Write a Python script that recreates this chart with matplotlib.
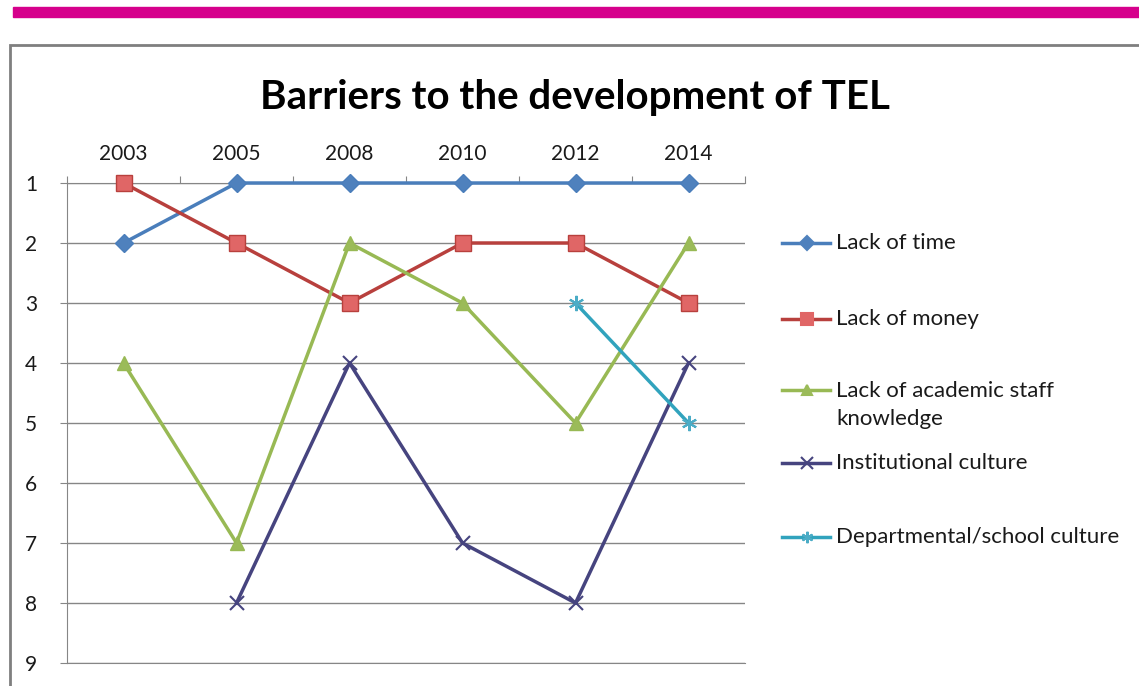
import numpy as np
import matplotlib.pyplot as plt
from matplotlib.lines import Line2D
from matplotlib.patches import Rectangle

years = ["2003", "2005", "2008", "2010", "2012", "2014"]
lack_of_time = [2, 1, 1, 1, 1, 1]
lack_of_money = [1, 2, 3, 2, 2, 3]
lack_of_staff_knowledge = [4, 7, 2, 3, 5, 2]
institutional_culture = [np.nan, 8, 4, 7, 8, 4]
departmental_culture = [np.nan, np.nan, np.nan, np.nan, 3, 5]

series = [
    ("Lack of time", lack_of_time, "#4a7ebb", "#4f81bd", "D", 9),
    ("Lack of money", lack_of_money, "#b8403d", "#e06666", "s", 12),
    ("Lack of academic staff\nknowledge", lack_of_staff_knowledge, "#98b954", "#9bbb59", "^", 10),
    ("Institutional culture", institutional_culture, "#46447f", "#46447f", "x", 10),
    ("Departmental/school culture", departmental_culture, "#31a3bd", "#4bacc6", (6, 2, 0), 11),
]

plt.rcParams['font.family'] = ['Lato', 'DejaVu Sans']

fig = plt.figure(figsize=(11.39, 6.86), dpi=100)
W, H = 1139, 686

# magenta band and chart border
fig.patches.append(Rectangle((13 / W, 1 - 17 / H), 1, 10 / H, transform=fig.transFigure,
                             color="#d6008c", zorder=0))
fig.patches.append(Rectangle((10 / W, -0.05), 1.1, 1 - 45 / H + 0.05, transform=fig.transFigure,
                             fill=False, edgecolor="#7f7f7f", linewidth=2, zorder=0))

ax = fig.add_axes([67 / W, 1 - 663 / H, (745 - 67) / W, (663 - 183) / H])
x = np.arange(len(years))

for label, vals, lc, mc, mk, ms in series:
    if mk == "x":
        ax.plot(x, vals, color=lc, linewidth=2.5, marker="x", markersize=ms,
                markeredgewidth=1.5, markeredgecolor=lc, label=label, zorder=3, clip_on=False)
    elif mk == (6, 2, 0):
        ax.plot(x, vals, color=lc, linewidth=2.5, label=label, zorder=3, clip_on=False)
        ax.plot(x, vals, linestyle="none", marker=(6, 2, 0), markersize=ms,
                markeredgewidth=1.5, markeredgecolor=mc, zorder=4, clip_on=False)
    else:
        ax.plot(x, vals, color=lc, linewidth=2.5, marker=mk, markersize=ms,
                markerfacecolor=mc, markeredgecolor=lc, markeredgewidth=1,
                label=label, zorder=3, clip_on=False)

ax.set_xlim(-0.5, len(years) - 0.5)
ax.set_ylim(9, 1)
ax.set_yticks(range(1, 10))
ax.set_yticklabels([str(i) for i in range(1, 10)], fontsize=15, color="#1a1a1a", ha="center")
ax.yaxis.grid(True, color="#868686", linewidth=1)
ax.set_axisbelow(True)

ax.xaxis.tick_top()
ax.set_xticks(np.arange(-0.5, len(years), 1))
ax.set_xticklabels([])
ax.set_xticks(x, minor=True)
ax.set_xticklabels(years, minor=True, fontsize=15, color="#1a1a1a")
ax.tick_params(axis="x", which="major", direction="out", length=5, color="#868686")
ax.tick_params(axis="x", which="minor", length=0, pad=14)
ax.tick_params(axis="y", direction="out", length=5, color="#868686", pad=21)

ax.spines["right"].set_visible(False)
for s in ["top", "left", "bottom"]:
    ax.spines[s].set_color("#868686")

fig.text(575 / W, 1 - 97 / H, "Barriers to the development of TEL", ha="center", va="center",
         fontsize=29, fontweight="bold")

# legend drawn by hand to follow the original spacing
leg_y = [243, 319, 405, 463, 537]
for (label, vals, lc, mc, mk, ms), yy in zip(series, leg_y):
    yf = 1 - yy / H
    if "\n" in label:
        line_y = 1 - 390 / H
    else:
        line_y = yf
    fig.add_artist(Line2D([782 / W, 830 / W], [line_y, line_y], transform=fig.transFigure,
                          color=lc, linewidth=2.5))
    if mk == "x":
        fig.add_artist(Line2D([807 / W], [line_y], transform=fig.transFigure, marker="x",
                              markersize=8, markeredgewidth=1.5, color=lc))
    else:
        fig.add_artist(Line2D([807 / W], [line_y], transform=fig.transFigure, marker=mk,
                              markersize=ms * 0.75, markerfacecolor=mc, markeredgecolor=mc,
                              markeredgewidth=1.5, color=lc))
    fig.text(836 / W, yf, label, ha="left", va="center", fontsize=16, linespacing=1.45,
             color="#1a1a1a")

plt.savefig("out.png", dpi=100)
